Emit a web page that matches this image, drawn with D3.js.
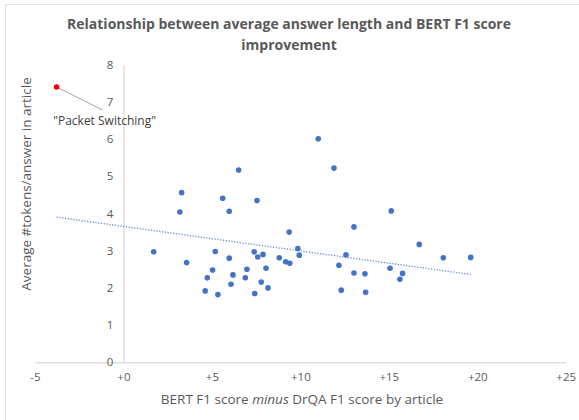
<!DOCTYPE html>
<html>
<head>
<meta charset="utf-8">
<script src="https://cdn.jsdelivr.net/npm/d3@7"></script>
<style>
  html, body { margin: 0; padding: 0; background: #fff; }
  svg { display: block; font-family: "Open Sans", "Liberation Sans", sans-serif; }
</style>
</head>
<body>
<div id="chart"></div>
<script>
// ── Data ──────────────────────────────────────────────────────────────────────
const scoreGain = [
  1.71, 3.19, 3.29, 3.57, 4.62, 4.74, 5.04, 5.19, 5.34, 5.61,
  5.98, 5.98, 6.08, 6.19, 6.51, 6.89, 6.98, 7.39, 7.42, 7.55,
  7.59, 7.79, 7.89, 8.06, 8.17, 8.81, 9.17, 9.37, 9.40, 9.86,
  9.94, 11.01, 11.90, 12.18, 12.31, 12.58, 15.14, 13.03, 16.72, 13.03,
  13.65, 15.07, 15.78, 15.63, 18.08, 19.63, 13.69
];
const tokensPerAnswer = [
  2.97, 4.04, 4.56, 2.68, 1.92, 2.27, 2.48, 2.98, 1.82, 4.41,
  4.06, 2.80, 2.10, 2.35, 5.17, 2.27, 2.50, 2.97, 1.85, 4.35,
  2.83, 2.16, 2.90, 2.53, 2.00, 2.81, 2.70, 3.50, 2.66, 3.06,
  2.88, 6.01, 5.22, 2.61, 1.94, 2.89, 4.07, 3.64, 3.17, 2.40,
  2.38, 2.53, 2.39, 2.23, 2.81, 2.82, 1.88
];
const outlierLabel = '"Packet Switching"';
const outlierGain = -3.78;
const outlierTokens = 7.40;

const xTicks = [-5, 0, 5, 10, 15, 20, 25];
const yTicks = [0, 1, 2, 3, 4, 5, 6, 7, 8];

const title = ['Relationship between average answer length and BERT F1 score', 'improvement'];

// ── Layout ────────────────────────────────────────────────────────────────────
const W = 579, H = 420;
const textGrey = '#595959';
const axisGrey = '#d0d0d0';
const blue = '#4472c4';

const x = d3.scaleLinear().domain([-5, 25]).range([35, 565.7]);
const y = d3.scaleLinear().domain([0, 8]).range([362.3, 64.7]);

const svg = d3.select('#chart').append('svg')
  .attr('width', W)
  .attr('height', H);

// chart frame (Excel-style, runs off the right/bottom edge)
svg.append('rect')
  .attr('x', 5.5).attr('y', 4.5)
  .attr('width', 700).attr('height', 600)
  .attr('fill', 'none')
  .attr('stroke', '#e3e3e3');

// Title
svg.append('text')
  .attr('x', 289)
  .attr('y', 29)
  .attr('text-anchor', 'middle')
  .attr('fill', textGrey)
  .style('font-size', '14px')
  .style('font-weight', 'bold')
  .selectAll('tspan')
  .data(title)
  .join('tspan')
  .attr('x', 289)
  .attr('dy', (d, i) => i === 0 ? 0 : 21)
  .text(d => d);

// X axis (horizontal line at y = 0)
svg.append('g')
  .attr('transform', `translate(0,${y(0)})`)
  .call(d3.axisBottom(x).tickValues(xTicks).tickSize(0).tickPadding(11)
    .tickFormat(d => d < 0 ? `${d}` : `+${d}`))
  .call(ax => ax.select('.domain').attr('stroke', axisGrey))
  .call(ax => ax.selectAll('text').attr('fill', textGrey)
    .style('font-size', '11.5px').style('font-family', '"Open Sans", sans-serif'));

// Y axis (vertical line at x = 0)
svg.append('g')
  .attr('transform', `translate(${x(0)},0)`)
  .call(d3.axisLeft(y).tickValues(yTicks).tickSize(0).tickPadding(10))
  .call(ax => ax.select('.domain').attr('stroke', axisGrey))
  .call(ax => ax.selectAll('text').attr('fill', textGrey)
    .style('font-size', '11.5px').style('font-family', '"Open Sans", sans-serif'));

// Axis titles
const xTitle = svg.append('text')
  .attr('x', 302)
  .attr('y', 404)
  .attr('text-anchor', 'middle')
  .attr('fill', textGrey)
  .style('font-size', '13.5px');
xTitle.append('tspan').text('BERT F1 score ');
xTitle.append('tspan').style('font-style', 'italic').text('minus');
xTitle.append('tspan').text(' DrQA F1 score by article');

svg.append('text')
  .attr('transform', 'rotate(-90)')
  .attr('x', -184)
  .attr('y', 31)
  .attr('text-anchor', 'middle')
  .attr('fill', textGrey)
  .style('font-size', '13.5px')
  .text('Average #tokens/answer in article');

// ── Linear trendline (least squares over all points, incl. outlier) ──────────
const allX = scoreGain.concat([outlierGain]);
const allY = tokensPerAnswer.concat([outlierTokens]);
const mx = d3.mean(allX), my = d3.mean(allY);
const slope = d3.sum(allX, (v, i) => (v - mx) * (allY[i] - my)) / d3.sum(allX, v => (v - mx) ** 2);
const intercept = my - slope * mx;
const [x0, x1] = d3.extent(allX);

svg.append('line')
  .attr('x1', x(x0)).attr('y1', y(intercept + slope * x0))
  .attr('x2', x(x1)).attr('y2', y(intercept + slope * x1))
  .attr('stroke', blue)
  .attr('stroke-width', 1.3)
  .attr('stroke-dasharray', '1.2,1.6')
  .attr('opacity', 0.85);

// Points
const pts = scoreGain.map((v, i) => ({ gain: v, tokens: tokensPerAnswer[i] }));
svg.append('g')
  .selectAll('circle')
  .data(pts)
  .join('circle')
  .attr('cx', d => x(d.gain))
  .attr('cy', d => y(d.tokens))
  .attr('r', 2.8)
  .attr('fill', blue);

// Outlier + callout
svg.append('line')
  .attr('x1', x(outlierGain)).attr('y1', y(outlierTokens))
  .attr('x2', x(outlierGain) + 46).attr('y2', y(outlierTokens) + 23)
  .attr('stroke', '#a6a6a6')
  .attr('stroke-width', 1);

svg.append('circle')
  .attr('cx', x(outlierGain))
  .attr('cy', y(outlierTokens))
  .attr('r', 2.8)
  .attr('fill', '#ff0000');

svg.append('text')
  .attr('x', x(outlierGain) + 48)
  .attr('y', y(outlierTokens) + 38)
  .attr('text-anchor', 'middle')
  .attr('fill', '#404040')
  .style('font-size', '12px')
  .text(outlierLabel);
</script>
</body>
</html>
